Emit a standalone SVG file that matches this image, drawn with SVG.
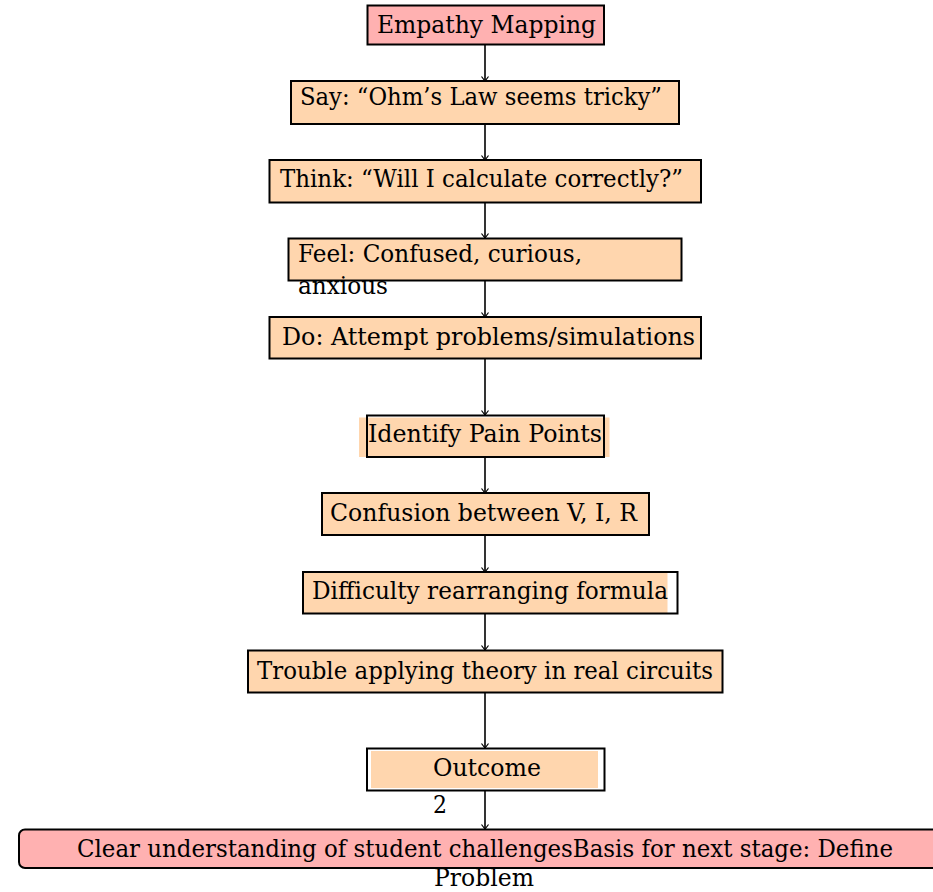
<svg xmlns="http://www.w3.org/2000/svg" width="933" height="892" viewBox="0 0 933 892">
<defs>
<style>
.t{font-family:"DejaVu Serif","Liberation Serif",serif;font-size:24px;fill:#000}
.pink{fill:#ffb1b1;stroke:#000;stroke-width:2}
.peach{fill:#ffd6ae;stroke:#000;stroke-width:2}
.frame{fill:none;stroke:#000;stroke-width:2}
.fill{fill:#ffd6ae}
.c{stroke:#000;stroke-width:1.6;fill:none}
</style>
<marker id="ah" markerUnits="userSpaceOnUse" markerWidth="10" markerHeight="10" refX="0" refY="0" viewBox="-6 -5 7 10" orient="auto">
<path d="M-4.5,-3.5 L0,0 L-4.5,3.5" fill="none" stroke="#000" stroke-width="1.2"/>
</marker>
</defs>
<rect width="933" height="892" fill="#fff"/>
<g id="connectors">
<line class="c" x1="485" y1="45" x2="485" y2="81" marker-end="url(#ah)"/>
<line class="c" x1="485" y1="124" x2="485" y2="160" marker-end="url(#ah)"/>
<line class="c" x1="485" y1="203" x2="485" y2="238" marker-end="url(#ah)"/>
<line class="c" x1="485" y1="281" x2="485" y2="317" marker-end="url(#ah)"/>
<line class="c" x1="485" y1="358" x2="485" y2="415" marker-end="url(#ah)"/>
<line class="c" x1="485" y1="457" x2="485" y2="493" marker-end="url(#ah)"/>
<line class="c" x1="485" y1="535" x2="485" y2="572" marker-end="url(#ah)"/>
<line class="c" x1="485" y1="614" x2="485" y2="650" marker-end="url(#ah)"/>
<line class="c" x1="485" y1="693" x2="485" y2="748" marker-end="url(#ah)"/>
<line class="c" x1="485" y1="791" x2="485" y2="829" marker-end="url(#ah)"/>
<text class="t" x="433" y="813" font-size="17" textLength="14" lengthAdjust="spacingAndGlyphs">2</text>
</g>
<g id="n1">
<rect class="pink" x="367.5" y="5.5" width="236.5" height="39"/>
<text class="t" x="377" y="33" textLength="219" lengthAdjust="spacingAndGlyphs">Empathy Mapping</text>
</g>
<g id="n2">
<rect class="peach" x="291" y="81" width="388" height="43"/>
<text class="t" x="300" y="105" textLength="362" lengthAdjust="spacingAndGlyphs">Say: “Ohm’s Law seems tricky”</text>
</g>
<g id="n3">
<rect class="peach" x="269.5" y="160" width="431.5" height="42.5"/>
<text class="t" x="280" y="187" textLength="403" lengthAdjust="spacingAndGlyphs">Think: “Will I calculate correctly?”</text>
</g>
<g id="n4">
<rect class="peach" x="288.5" y="238.5" width="393" height="42"/>
<text class="t" x="298" y="262" textLength="284" lengthAdjust="spacingAndGlyphs">Feel: Confused, curious,</text>
<text class="t" x="298" y="294" textLength="90" lengthAdjust="spacingAndGlyphs">anxious</text>
</g>
<g id="n5">
<rect class="peach" x="269.5" y="317" width="431.5" height="41.5"/>
<text class="t" x="282" y="345" textLength="413" lengthAdjust="spacingAndGlyphs">Do: Attempt problems/simulations</text>
</g>
<g id="n6">
<rect class="fill" x="359" y="417.5" width="250.5" height="39.5"/>
<rect class="frame" x="367" y="415.5" width="237" height="41.5"/>
<text class="t" x="368" y="442" textLength="234" lengthAdjust="spacingAndGlyphs">Identify Pain Points</text>
</g>
<g id="n7">
<rect class="peach" x="322" y="493" width="327" height="42"/>
<text class="t" x="330" y="520.5" textLength="307" lengthAdjust="spacingAndGlyphs">Confusion between V, I, R</text>
</g>
<g id="n8">
<rect class="fill" x="303" y="572" width="364.5" height="41.5"/>
<rect class="frame" x="303" y="572" width="374.5" height="41.5"/>
<text class="t" x="312" y="598.5" textLength="356" lengthAdjust="spacingAndGlyphs">Difficulty rearranging formula</text>
</g>
<g id="n9">
<rect class="peach" x="248" y="650.5" width="474.5" height="42"/>
<text class="t" x="257" y="678.5" textLength="456" lengthAdjust="spacingAndGlyphs">Trouble applying theory in real circuits</text>
</g>
<g id="n10">
<rect class="frame" x="367" y="748.5" width="237.5" height="42"/>
<rect class="fill" x="371" y="751" width="227" height="37"/>
<text class="t" x="433" y="776" textLength="108" lengthAdjust="spacingAndGlyphs">Outcome</text>
</g>
<g id="n11">
<rect class="pink" x="19" y="829.5" width="930" height="38.5" rx="6" ry="6"/>
<text class="t" x="77" y="857" textLength="816" lengthAdjust="spacingAndGlyphs">Clear understanding of student challengesBasis for next stage: Define</text>
<text class="t" x="434" y="886" textLength="100" lengthAdjust="spacingAndGlyphs">Problem</text>
</g>
</svg>
